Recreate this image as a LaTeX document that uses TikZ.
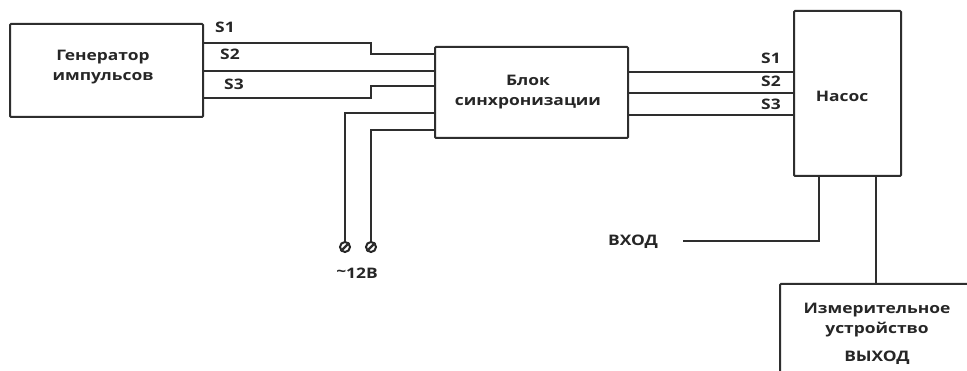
\documentclass[tikz,border=0pt]{standalone}
\usepackage{fontspec}
\setmainfont{Open Sans}[FakeStretch=1.2]
\begin{document}
\begin{tikzpicture}[x=1pt,y=-1pt,
  wire/.style={draw=black!82,line width=2pt,line join=miter},
  blockbox/.style={draw=black!82,line width=2pt,rounded corners=1pt,inner sep=0pt,fill=white},
  lbl/.style={font=\fontsize{14.5}{20}\selectfont\bfseries,text=black!85,inner sep=0pt,align=center},
  term/.style={circle,draw=black!85,line width=2pt,minimum size=10pt,inner sep=0pt}]
\clip (0,0) rectangle (967,371);
\fill[white] (0,0) rectangle (967,371);
% boxes
\node[blockbox,minimum width=193pt,minimum height=93pt] (gen) at (106.5,70.5) {};
\node[lbl] at (103,67) {Генератор\\импульсов};
\node[blockbox,minimum width=193pt,minimum height=91pt] (blk) at (531.5,92.5) {};
\node[lbl] at (528,92) {Блок\\синхронизации};
\node[blockbox,minimum width=107pt,minimum height=165pt] (pump) at (847.5,93.5) {};
\node[lbl] at (842,96) {Насос};
\node[blockbox,anchor=north west,minimum width=200pt,minimum height=140pt] (meas) at (779,283) {};
\node[lbl] at (877,320) {Измерительное\\устройство};
\node[lbl] at (877,358) {ВЫХОД};
% signal labels
\node[lbl] at (225,27) {S1};
\node[lbl] at (230,54) {S2};
\node[lbl] at (234,84) {S3};
\node[lbl] at (771,58) {S1};
\node[lbl] at (771,81) {S2};
\node[lbl] at (771,104) {S3};
% generator -> block
\draw[wire] (gen.east |- 0,43) -- (371,43) -- (371,54) -- (blk.west |- 0,54);
\draw[wire] (gen.east |- 0,71) -- (blk.west |- 0,71);
\draw[wire] (gen.east |- 0,98) -- (371,98) -- (371,86) -- (blk.west |- 0,86);
% supply terminals
\node[term] (t1) at (345,247) {};
\node[term] (t2) at (371,247) {};
\draw[wire,line width=2.2pt] (t1.south west) -- (t1.north east);
\draw[wire,line width=2.2pt] (t2.south west) -- (t2.north east);
\draw[wire] (blk.west |- 0,113) -- (345,113) -- (t1.north);
\draw[wire] (blk.west |- 0,130) -- (371,130) -- (t2.north);
\node[lbl] at (357,273) {\raisebox{2pt}{\textasciitilde}12В};
% block -> pump
\draw[wire] (blk.east |- 0,72) -- (pump.west |- 0,72);
\draw[wire] (blk.east |- 0,93) -- (pump.west |- 0,93);
\draw[wire] (blk.east |- 0,115) -- (pump.west |- 0,115);
% pump input / output
\node[lbl] (vhod) at (633,242) {ВХОД};
\coordinate (vin) at (683,241);
\draw[wire] (pump.south -| 819,0) -- (819,241) -- (vin);
\draw[wire] (pump.south -| 876,0) -- (meas.north -| 876,0);
\end{tikzpicture}
\end{document}
